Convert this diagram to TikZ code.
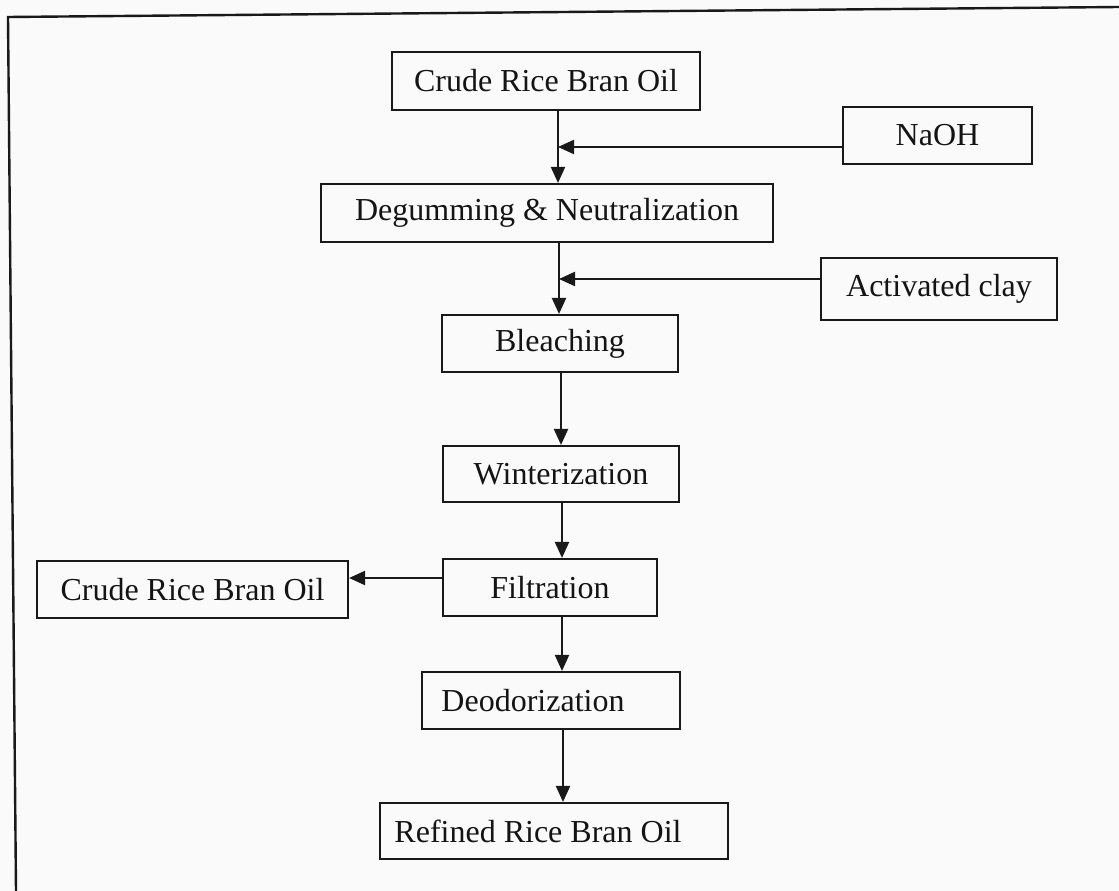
\documentclass[tikz,border=0pt]{standalone}
\usepackage{fontspec}
\setmainfont{Liberation Serif}
\usetikzlibrary{arrows.meta}
\tikzset{
  box/.style={draw=black!90, line width=2.1pt, inner sep=0pt, anchor=center,
    font=\fontsize{32}{38}\selectfont, text=black!92},
  arr/.style={draw=black!90, line width=2.1pt, -{Triangle[length=16pt,width=14pt]}},
  frame/.style={draw=black!90, line width=2.4pt}
}
\begin{document}
\begin{tikzpicture}[x=1pt,y=-1pt]
\useasboundingbox (0,0) rectangle (1119,891);
\fill[black!2] (0,0) rectangle (1119,891);
\draw[frame] (1119,7) -- (8,17) -- (16,891);

\node[box, minimum width=308pt, minimum height=58pt] (top) at (546,81) {Crude Rice Bran Oil};
\node[box, minimum width=189pt, minimum height=57pt] (naoh) at (937.5,135.5) {NaOH};
\node[box, minimum width=452pt, minimum height=58pt] (degum) at (547,213) {Degumming \& Neutralization};
\node[box, minimum width=236pt, minimum height=62pt] (clay) at (939,289) {Activated clay};
\node[box, minimum width=236pt, minimum height=57pt] (bleach) at (560,343.5) {Bleaching};
\node[box, minimum width=236pt, minimum height=56pt] (winter) at (561,474) {Winterization};
\node[box, minimum width=214pt, minimum height=57pt] (filt) at (550,587.5) {Filtration};
\node[box, minimum width=311pt, minimum height=57pt] (crude2) at (192.5,589.5) {Crude Rice Bran Oil};
\node[box, minimum width=258pt, minimum height=57pt] (deod) at (551,700.5) {Deodorization\hspace*{36pt}};
\node[box, minimum width=348pt, minimum height=56pt] (refined) at (554,831) {Refined Rice Bran Oil\hspace*{32pt}};

\coordinate (j1) at (558,147);
\coordinate (j2) at (559,279);
\coordinate (x3) at (561,0);
\coordinate (x4) at (562,0);
\coordinate (y5) at (0,578);
\coordinate (x6) at (562,0);
\coordinate (x7) at (563,0);

\draw[arr] (top.south -| j1) -- (degum.north -| j1);
\draw[arr] (naoh.west |- j1) -- (j1);
\draw[arr] (degum.south -| j2) -- (bleach.north -| j2);
\draw[arr] (clay.west |- j2) -- (j2);
\draw[arr] (bleach.south -| x3) -- (winter.north -| x3);
\draw[arr] (winter.south -| x4) -- (filt.north -| x4);
\draw[arr] (filt.west |- y5) -- (crude2.east |- y5);
\draw[arr] (filt.south -| x6) -- (deod.north -| x6);
\draw[arr] (deod.south -| x7) -- (refined.north -| x7);
\end{tikzpicture}
\end{document}
